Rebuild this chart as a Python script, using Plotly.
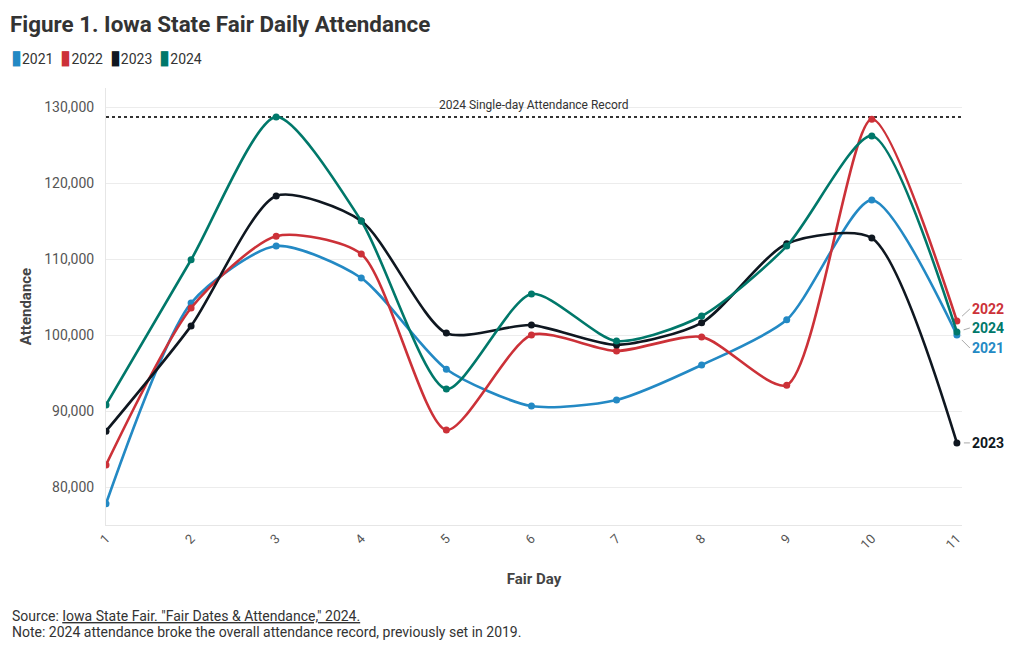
import plotly.graph_objects as go

days = [1, 2, 3, 4, 5, 6, 7, 8, 9, 10, 11]
att_2021 = [77800, 104200, 111700, 107500, 95500, 90650, 91450, 96050, 102000, 117750, 100000]
att_2022 = [82900, 103550, 113000, 110650, 87500, 100000, 97900, 99750, 93400, 128400, 101850]
att_2023 = [87350, 101200, 118300, 115000, 100250, 101300, 98700, 101600, 112000, 112750, 85800]
att_2024 = [90800, 109900, 128700, 115000, 92900, 105400, 99200, 102500, 111700, 126200, 100400]
record_value = 128700
record_label = "2024 Single-day Attendance Record"

series = [
    ("2021", att_2021, "#2389c4"),
    ("2022", att_2022, "#cc3138"),
    ("2023", att_2023, "#0f1720"),
    ("2024", att_2024, "#00786a"),
]
# label vertical offsets (px) for end labels
label_shift = {"2021": -13, "2022": 12, "2023": 0, "2024": 4}

FONT = "Roboto"
fig = go.Figure()

# record line
fig.add_trace(go.Scatter(x=[days[0], days[-1] + 0.06], y=[record_value, record_value],
                         mode="lines", line=dict(color="#333333", width=2, dash="dot"),
                         showlegend=False, hoverinfo="skip"))

for name, vals, col in series:
    fig.add_trace(go.Scatter(x=days, y=vals, mode="lines+markers", name=name,
                             line=dict(color=col, width=2.6, shape="spline", smoothing=0.7),
                             marker=dict(color=col, size=7), showlegend=False))

for name, vals, col in series:
    fig.add_annotation(x=days[-1], y=vals[-1], xref="x", yref="y",
                       text="<b>%s</b>" % name, showarrow=True, arrowhead=0,
                       arrowcolor="#aaaaaa", arrowwidth=1, standoff=7,
                       ax=13, ay=-label_shift[name], xanchor="left", yanchor="middle",
                       font=dict(family=FONT, size=14, color=col))

fig.add_annotation(x=0.5, y=record_value, xref="paper", yref="y", text=record_label,
                   showarrow=False, yanchor="bottom", yshift=3,
                   font=dict(family=FONT, size=12, color="#333333"))

# legend built as text
legend_text = "  ".join(
    "<span style='color:%s;font-size:20px'>▮</span>%s" % (col, name) for name, vals, col in series
)
fig.add_annotation(x=(9 - 106) / 856, y=(525 - 57) / 437, xref="paper", yref="paper",
                   xanchor="left", yanchor="middle", showarrow=False,
                   text=legend_text, font=dict(family=FONT, size=14, color="#333333"))

# footer
fig.add_annotation(x=(10 - 106) / 856, y=(525 - 616) / 437, xref="paper", yref="paper",
                   xanchor="left", yanchor="middle", showarrow=False,
                   text="Source: <span style='text-decoration:underline'>Iowa State Fair. \"Fair Dates &amp; Attendance,\" 2024.</span>",
                   font=dict(family=FONT, size=14, color="#333333"))
fig.add_annotation(x=(10 - 106) / 856, y=(525 - 632) / 437, xref="paper", yref="paper",
                   xanchor="left", yanchor="middle", showarrow=False,
                   text="Note: 2024 attendance broke the overall attendance record, previously set in 2019.",
                   font=dict(family=FONT, size=14, color="#333333"))

fig.update_layout(
    width=1020, height=650,
    margin=dict(l=106, r=58, t=88, b=125),
    paper_bgcolor="white", plot_bgcolor="white",
    font=dict(family=FONT, size=14, color="#444444"),
    showlegend=False,
    title=dict(text="<b>Figure 1. Iowa State Fair Daily Attendance</b>",
               x=10 / 1020, xref="container", xanchor="left",
               y=1 - 24 / 650, yref="container", yanchor="middle",
               font=dict(family=FONT, size=22.4, color="#333333")),
    xaxis=dict(range=[1, 11.06], tickmode="array", tickvals=days,
               ticktext=[str(d) for d in days], tickangle=-45,
               showgrid=False, showline=True, linecolor="#e6e6e6", linewidth=1,
               zeroline=False, ticks="", tickfont=dict(size=13, color="#555555"),
               title=dict(text="<b>Fair Day</b>", font=dict(size=15, color="#444444"), standoff=22)),
    yaxis=dict(range=[75000, 132500], tickvals=[80000, 90000, 100000, 110000, 120000, 130000],
               tickformat=",", showgrid=True, gridcolor="#ececec", gridwidth=1,
               showline=True, linecolor="#e6e6e6", zeroline=False, ticks="",
               ticklabelstandoff=8,
               tickfont=dict(size=14, color="#555555"),
               title=dict(text="<b>Attendance</b>", font=dict(size=15, color="#444444"), standoff=8)),
)

fig.write_html("out.html", config={"displayModeBar": False},
               post_script="document.body.style.margin='0';document.body.style.overflow='hidden';")
